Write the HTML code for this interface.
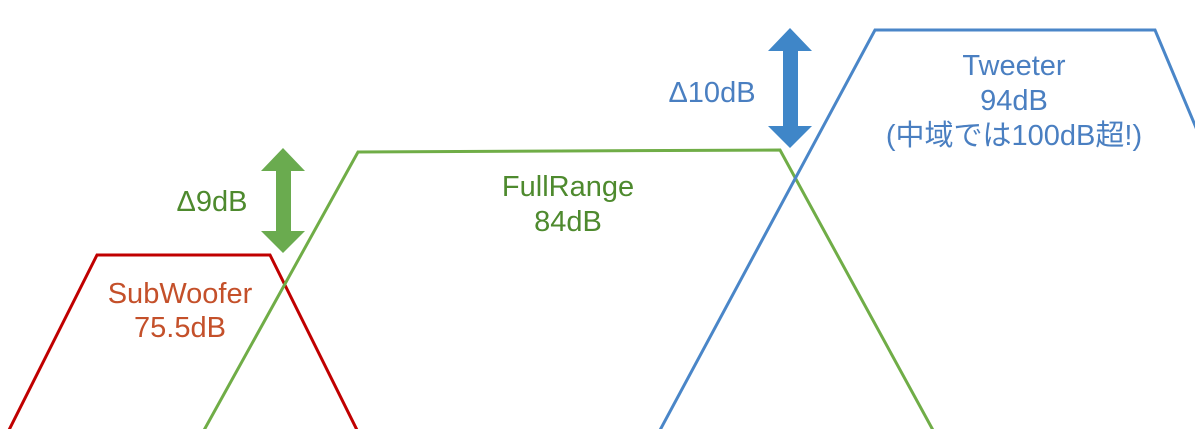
<!DOCTYPE html>
<html><head><meta charset="utf-8"><style>
html,body{margin:0;padding:0;background:#fff;}
svg{display:block}
text{font-family:"Liberation Sans","Noto Sans CJK JP",sans-serif;font-size:29px;text-anchor:middle}
</style></head><body>
<svg width="1195" height="429" viewBox="0 0 1195 429" xmlns="http://www.w3.org/2000/svg">
<polyline points="8,432 97,255 270,255 358,432" fill="none" stroke="#C00000" stroke-width="3"/>
<polyline points="203,432 358,152 780,150 934,432" fill="none" stroke="#70AD47" stroke-width="3"/>
<polyline points="659,432 875,30 1155,30 1197,130" fill="none" stroke="#4A86C8" stroke-width="3"/>
<polygon points="283,148 305,171 291,171 291,231 305,231 283,253 261,231 276,231 276,171 261,171" fill="#6AAB4F"/>
<polygon points="790,28 812,51 798,51 798,126 812,126 790,148 768,126 783,126 783,51 768,51" fill="#3F86C8"/>
<text x="212" y="211" fill="#4E8A2E">Δ9dB</text>
<text x="712" y="102" fill="#4A7FC1">Δ10dB</text>
<text x="180" y="303" fill="#C4502A">SubWoofer</text>
<text x="180" y="337" fill="#C4502A">75.5dB</text>
<text x="568" y="196" fill="#4E8A2E">FullRange</text>
<text x="568" y="231" fill="#4E8A2E">84dB</text>
<text x="1014" y="75" fill="#4A7FC1">Tweeter</text>
<text x="1014" y="110" fill="#4A7FC1">94dB</text>
<text x="1014" y="145" fill="#4A7FC1">(中域では100dB超!)</text>
</svg>
</body></html>
